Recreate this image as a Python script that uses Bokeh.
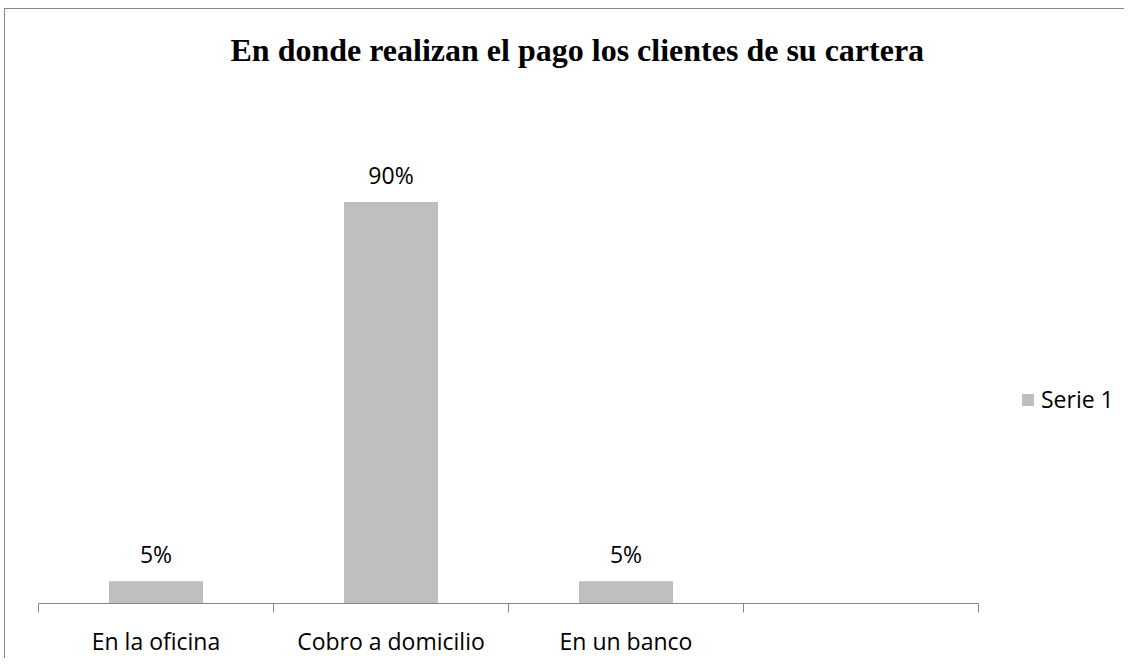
import numpy as np
from bokeh.plotting import figure
from bokeh.models import (Range1d, FixedTicker, LinearAxis, ColumnDataSource,
                          LabelSet, Legend, LegendItem)
from bokeh.core.properties import value
from bokeh.embed import file_html
from bokeh.resources import INLINE

categories = ["En la oficina", "Cobro a domicilio", "En un banco", ""]
values = [5, 90, 5, np.nan]
labels = ["5%", "90%", "5%", ""]
series_name = "Serie 1"
title_text = "En donde realizan el pago los clientes de su cartera"

BAR = "#BFBFBF"
AXIS = "#868686"
FONT = "Open Sans"
FS = "23px"

n = len(categories)
xpos = np.arange(n) + 0.5

# layout (pixels)
W, H = 1120, 650
BL, BR, BT, BB = 33, 4, 71, 56
CAT_PX = 235          # width of one category slot
PCT100_PX = 446       # height of the 0..100 % span
frame_w = W - BL - BR
frame_h = H - BT - BB

src = ColumnDataSource(dict(x=xpos, top=values, lab=labels,
                            y=[0 if np.isnan(v) else v for v in values]))

p = figure(width=W, height=H, output_backend="svg", toolbar_location=None,
           x_range=Range1d(0, frame_w / CAT_PX),
           y_range=Range1d(0, 100 * frame_h / PCT100_PX),
           x_axis_location=None, y_axis_location=None,
           min_border_left=BL, min_border_right=BR,
           min_border_top=BT, min_border_bottom=BB)
p.styles = {"position": "relative", "top": "8px", "left": "4px",
            "border-top": f"1px solid {AXIS}", "border-left": f"1px solid {AXIS}"}
p.outline_line_color = None
p.xgrid.grid_line_color = None
p.ygrid.grid_line_color = None
p.background_fill_color = "white"
p.border_fill_color = "white"

p.title.text = title_text
p.title.align = "left"
p.title.offset = 192
p.title.standoff = 26
p.title.text_font = "Liberation Serif"
p.title.text_font_style = "bold"
p.title.text_font_size = "32px"
p.title.text_color = "#000000"

r = p.vbar(x="x", top="top", width=0.4, source=src, fill_color=BAR, line_color=None)

ax = LinearAxis(ticker=FixedTicker(ticks=list(xpos), minor_ticks=list(np.arange(n + 1))))
ax.bounds = (0, n)
ax.major_label_overrides = {float(x): c for x, c in zip(xpos, categories)}
ax.axis_line_color = AXIS
ax.major_tick_line_color = None
ax.minor_tick_line_color = AXIS
ax.minor_tick_in = 0
ax.minor_tick_out = 9
ax.major_tick_in = 0
ax.major_tick_out = 0
ax.major_label_standoff = 12
ax.major_label_text_font = FONT
ax.major_label_text_font_size = FS
ax.major_label_text_color = "#000000"
p.add_layout(ax, "below")

vl = LabelSet(x="x", y="y", text="lab", source=src, y_offset=27,
              text_align="center", text_baseline="middle",
              text_font=value(FONT), text_font_size=value(FS),
              text_color="#000000")
p.add_layout(vl)

legend = Legend(items=[LegendItem(label=series_name, renderers=[r])],
                location=(982, 188), orientation="vertical",
                border_line_color=None, background_fill_alpha=0,
                padding=0, margin=0, glyph_width=15, glyph_height=15,
                label_standoff=6, label_text_font=FONT,
                label_text_font_size=FS, label_text_color="#000000",
                label_height=31, spacing=0)
p.add_layout(legend, "center")

open("out.html", "w").write(file_html(p, INLINE))
